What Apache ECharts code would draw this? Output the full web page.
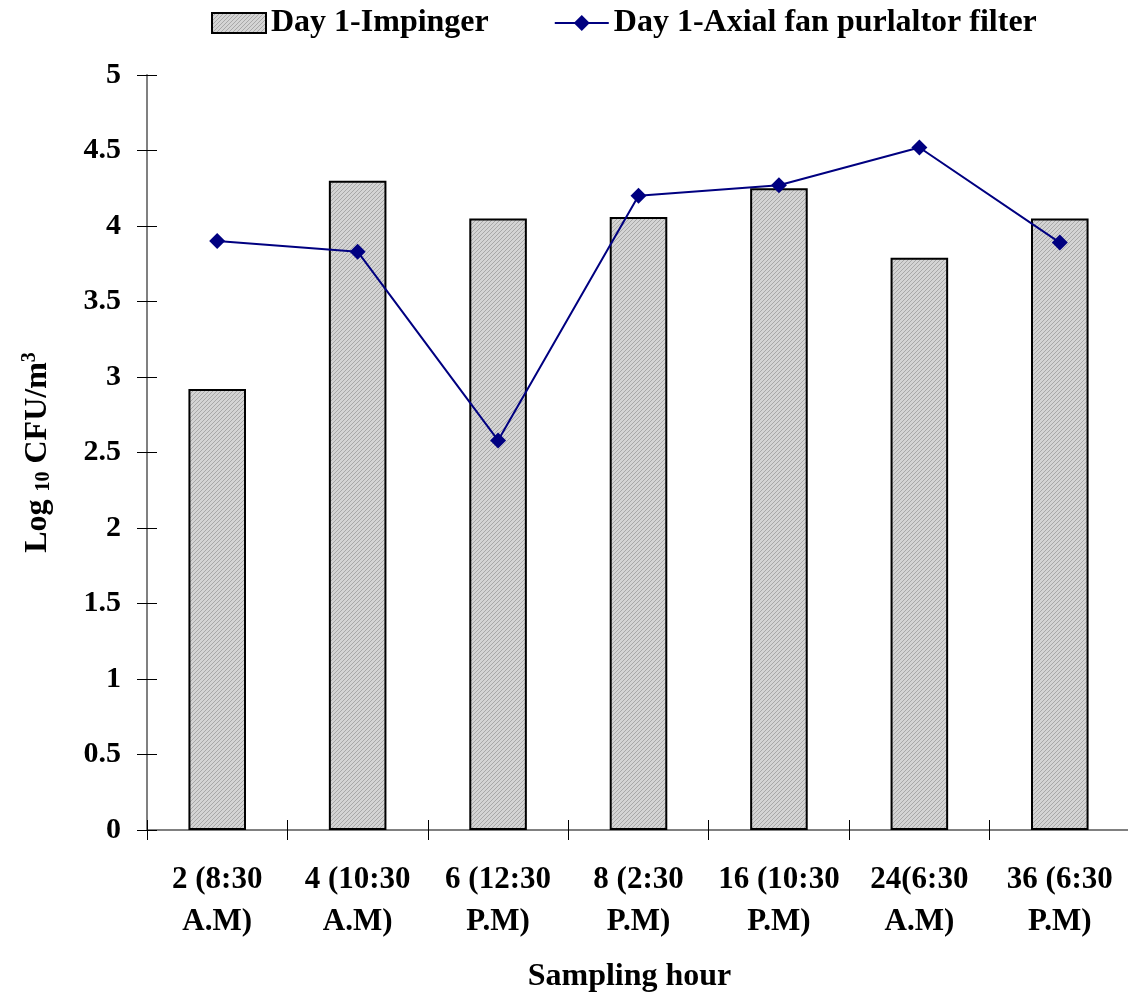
<!DOCTYPE html>
<html>
<head>
<meta charset="utf-8">
<script src="https://cdn.jsdelivr.net/npm/echarts@6/dist/echarts.min.js"></script>
<style>
html,body{margin:0;padding:0;background:#fff;}
#chart{width:1128px;height:997px;}
</style>
</head>
<body>
<div id="chart"></div>
<script>
// Sampling hours (with clock time) on the x axis
const categories = ['2 (8:30\nA.M)', '4 (10:30\nA.M)', '6 (12:30\nP.M)', '8 (2:30\nP.M)', '16 (10:30\nP.M)', '24(6:30\nA.M)', '36 (6:30\nP.M)'];
// Log10 CFU/m3 measured by the impinger (bars)
const impinger = [2.92, 4.30, 4.05, 4.06, 4.25, 3.79, 4.05];
// Log10 CFU/m3 from the axial fan purifier filter (line)
const axialFan = [3.90, 3.83, 2.58, 4.20, 4.27, 4.52, 3.89];
const yTicks = { min: 0, max: 5, interval: 0.5 };

const FONT = '"Liberation Serif", "Times New Roman", serif';

// fine diagonal hatch used to fill the bars
function hatch() {
  const c = document.createElement('canvas');
  c.width = 4; c.height = 4;
  const g = c.getContext('2d');
  g.fillStyle = '#d4d4d4';
  g.fillRect(0, 0, 4, 4);
  g.fillStyle = '#a8a8a8';
  for (let i = 0; i < 4; i++) g.fillRect(i, 3 - i, 1, 1);
  return c;
}
const barFill = { image: hatch(), repeat: 'repeat' };

const chart = echarts.init(document.getElementById('chart'), null, { renderer: 'canvas' });

chart.setOption({
  animation: false,
  backgroundColor: '#fff',
  textStyle: { fontFamily: FONT, fontWeight: 'bold', color: '#000' },
  legend: {
    top: 2,
    left: 206,
    itemGap: 65,
    itemWidth: 54,
    itemHeight: 20,
    textStyle: { fontFamily: FONT, fontWeight: 'bold', fontSize: 32, color: '#000' },
    data: [
      { name: 'Day 1-Impinger', icon: 'rect', itemStyle: { color: barFill, borderColor: '#000', borderWidth: 2 } },
      { name: 'Day 1-Axial fan purlaltor filter' }
    ]
  },
  grid: { left: 147, right: -2, top: 75, bottom: 167, containLabel: false, outerBoundsMode: 'none' },
  xAxis: [{
    type: 'category',
    data: categories,
    boundaryGap: true,
    axisLine: { lineStyle: { color: '#808080', width: 2 } },
    axisTick: { show: true, inside: false, length: 10, lineStyle: { color: '#000', width: 1 } },
    axisLabel: {
      interval: 0, margin: 29, fontFamily: FONT, fontWeight: 'bold', fontSize: 31,
      color: '#000', lineHeight: 42
    },
    name: 'Sampling hour',
    nameLocation: 'middle',
    nameGap: 131,
    nameTextStyle: { fontFamily: FONT, fontWeight: 'bold', fontSize: 32, color: '#000', padding: [0, 18, 0, 0] }
  }, {
    type: 'category',
    data: categories,
    position: 'bottom',
    axisLine: { show: false },
    axisTick: { show: true, inside: true, length: 10, lineStyle: { color: '#000', width: 1 } },
    axisLabel: { show: false }
  }],
  yAxis: [{
    type: 'value',
    min: yTicks.min, max: yTicks.max, interval: yTicks.interval,
    splitLine: { show: false },
    axisLine: { show: true, lineStyle: { color: '#808080', width: 2 } },
    axisTick: { show: true, inside: false, length: 10, lineStyle: { color: '#000', width: 1 } },
    axisLabel: {
      margin: 26, fontFamily: FONT, fontWeight: 'bold', fontSize: 30, color: '#000'
    },
    name: '{a|Log }{b|10}{a| CFU/m}{c|3}',
    nameLocation: 'middle',
    nameGap: 91,
    nameRotate: 90,
    nameTextStyle: {
      rich: {
        a: { fontFamily: FONT, fontWeight: 'bold', fontSize: 32, color: '#000' },
        b: { fontFamily: FONT, fontWeight: 'bold', fontSize: 20, color: '#000', padding: [12, 0, 0, 0] },
        c: { fontFamily: FONT, fontWeight: 'bold', fontSize: 20, color: '#000', padding: [0, 0, 16, 0] }
      }
    }
  }, {
    type: 'value',
    min: yTicks.min, max: yTicks.max, interval: yTicks.interval,
    position: 'left',
    splitLine: { show: false },
    axisLine: { show: false },
    axisTick: { show: true, inside: true, length: 10, lineStyle: { color: '#000', width: 1 } },
    axisLabel: { show: false }
  }],
  series: [{
    name: 'Day 1-Impinger',
    type: 'bar',
    data: impinger,
    barWidth: '41%',
    itemStyle: { color: barFill, borderColor: '#000', borderWidth: 2 },
    z: 2
  }, {
    name: 'Day 1-Axial fan purlaltor filter',
    type: 'line',
    data: axialFan,
    symbol: 'diamond',
    symbolSize: 16,
    lineStyle: { color: '#000080', width: 2 },
    itemStyle: { color: '#000080' },
    z: 3
  }]
});
</script>
</body>
</html>
